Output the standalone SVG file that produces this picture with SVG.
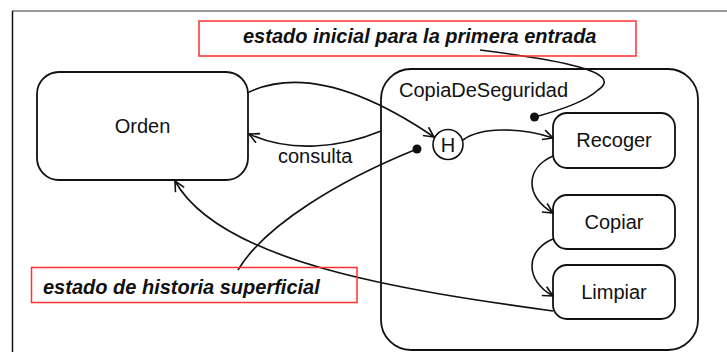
<svg xmlns="http://www.w3.org/2000/svg" width="727" height="352" viewBox="0 0 727 352">
<defs>
<style>
.st{fill:#fff;stroke:#111;stroke-width:1.8}
.lbl{font-family:"Liberation Sans",Arial,sans-serif;font-size:20px;fill:#111}
.note{font-family:"Liberation Sans",Arial,sans-serif;font-size:20px;font-weight:bold;font-style:italic;fill:#111}
.nbox{fill:none;stroke:#ff3030;stroke-width:1.5}
.c{fill:none;stroke:#111;stroke-width:1.6}
</style>
<marker id="arr" viewBox="0 0 12 12" refX="11" refY="6" markerWidth="12" markerHeight="12" markerUnits="userSpaceOnUse" orient="auto">
<path d="M1,1 L11,6 L1,11" fill="none" stroke="#111" stroke-width="1.6"/>
</marker>
</defs>
<rect width="727" height="352" fill="#fff"/>
<line x1="12" y1="11" x2="727" y2="11" stroke="#777" stroke-width="1.5"/>
<line x1="12.5" y1="11" x2="12.5" y2="352" stroke="#111" stroke-width="1.5"/>

<g id="orden">
<rect class="st" x="37" y="72" width="211" height="108" rx="22"/>
<text class="lbl" x="142.5" y="133" text-anchor="middle">Orden</text>
</g>
<g id="copia">
<rect class="st" x="381" y="69" width="317" height="281" rx="30"/>
<text class="lbl" x="399" y="97">CopiaDeSeguridad</text>
</g>
<g id="recoger">
<rect class="st" x="553" y="113" width="122" height="55" rx="14"/>
<text class="lbl" x="614" y="147" text-anchor="middle">Recoger</text>
</g>
<g id="copiar">
<rect class="st" x="553" y="195" width="122" height="54" rx="14"/>
<text class="lbl" x="614" y="229" text-anchor="middle">Copiar</text>
</g>
<g id="limpiar">
<rect class="st" x="553" y="265" width="122" height="54" rx="14"/>
<text class="lbl" x="614" y="299" text-anchor="middle">Limpiar</text>
</g>
<g id="historia">
<circle cx="448" cy="144.5" r="15" fill="#fff" stroke="#111" stroke-width="1.6"/>
<text class="lbl" x="448" y="151.5" text-anchor="middle">H</text>
</g>
<g id="inicial">
<circle cx="534.5" cy="117" r="4.5" fill="#111"/>
</g>
<g id="dot-historia">
<circle cx="417" cy="149" r="4.5" fill="#111"/>
</g>

<g id="connectors">
<path class="c" d="M247,93 C290,72 350,80 434,137" marker-end="url(#arr)"/>
<path class="c" d="M381,131 C340,148 290,153 249,134" marker-end="url(#arr)"/>
<text class="lbl" x="278" y="163">consulta</text>
<path class="c" d="M463,140 C480,127 520,127 553,138" marker-end="url(#arr)"/>
<path class="c" d="M553,156 C526,168 524,195 553,213" marker-end="url(#arr)"/>
<path class="c" d="M553,239 C526,250 524,280 553,296" marker-end="url(#arr)"/>
<path class="c" d="M553,311 C400,290 220,262 175,181" marker-end="url(#arr)"/>
<path class="c" d="M480,50 C560,60 625,72 598,90 C585,102 560,110 535,117"/>
<path class="c" d="M238,270 C265,225 340,180 417,149"/>
</g>

<g id="nota-inicial">
<rect class="nbox" x="199" y="21" width="437" height="35"/>
<text class="note" x="243" y="43">estado inicial para la primera entrada</text>
</g>
<g id="nota-historia">
<rect class="nbox" x="31.5" y="267.5" width="325.5" height="35"/>
<text class="note" x="43" y="294">estado de historia superficial</text>
</g>
</svg>
